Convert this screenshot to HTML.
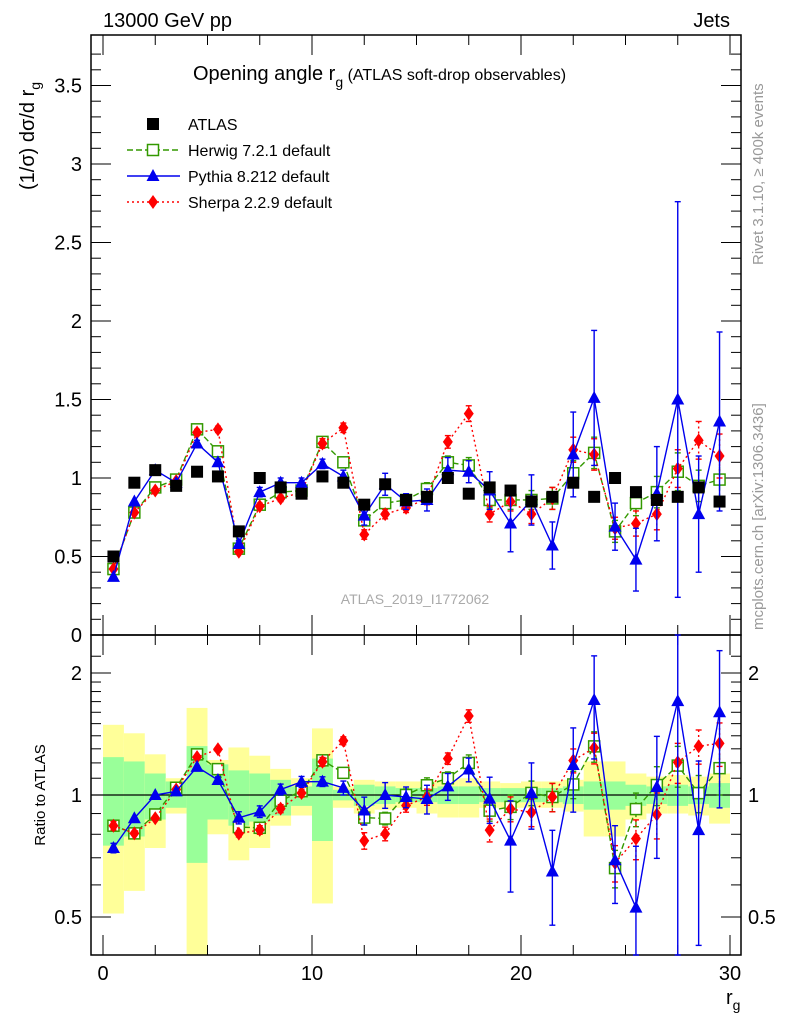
<!DOCTYPE html>
<html><head><meta charset="utf-8"><style>
body{margin:0;background:#fff;font-family:"Liberation Sans",sans-serif}
svg text{font-family:"Liberation Sans","DejaVu Sans",sans-serif}
</style></head><body>
<svg id="c" width="786" height="1024" xmlns="http://www.w3.org/2000/svg">
<g id="bands"></g>
<g id="axes"></g>
<g id="series"></g>
<text x="103" y="27" font-size="20">13000 GeV pp</text>
<text x="730" y="27" font-size="20" text-anchor="end">Jets</text>
<text transform="translate(34,190) rotate(-90)" font-size="20">(1/σ) dσ/d r<tspan font-size="14" dy="6">g</tspan></text>
<text x="193" y="80" font-size="20">Opening angle r<tspan font-size="14" dy="7">g</tspan><tspan font-size="16" dy="-7"> (ATLAS soft-drop observables)</tspan></text>
<text transform="translate(763,265) rotate(-90)" font-size="15" fill="#999">Rivet 3.1.10, ≥ 400k events</text>
<text transform="translate(763,630) rotate(-90)" font-size="15" fill="#999">mcplots.cern.ch [arXiv:1306.3436]</text>
<text x="415" y="604" font-size="14" fill="#aaa" text-anchor="middle">ATLAS_2019_I1772062</text>
<text transform="translate(45,795) rotate(-90)" font-size="15" text-anchor="middle">Ratio to ATLAS</text>
<text x="726" y="1004" font-size="20">r<tspan font-size="14" dy="6">g</tspan></text>
<g id="legend"></g>
</svg>
<script>
const centers=[0.5,1.5,2.5,3.5,4.5,5.5,6.5,7.5,8.5,9.5,10.5,11.5,12.5,13.5,14.5,15.5,16.5,17.5,18.5,19.5,20.5,21.5,22.5,23.5,24.5,25.5,26.5,27.5,28.5,29.5];
const atlas=[0.50,0.97,1.05,0.95,1.04,1.01,0.66,1.00,0.94,0.90,1.01,0.97,0.83,0.96,0.86,0.88,1.00,0.90,0.94,0.92,0.85,0.88,0.97,0.88,1.00,0.91,0.86,0.88,0.94,0.85];
const herwig=[0.42,0.78,0.94,0.99,1.31,1.17,0.55,0.83,0.91,0.92,1.23,1.10,0.73,0.84,0.86,0.93,1.10,1.08,0.86,0.86,0.86,0.87,1.03,1.16,0.66,0.84,0.91,1.04,0.95,0.99];
const herwigErr=[0.01,0.01,0.01,0.01,0.02,0.02,0.01,0.02,0.02,0.02,0.03,0.03,0.03,0.03,0.03,0.04,0.04,0.05,0.05,0.06,0.06,0.07,0.08,0.1,0.07,0.08,0.1,0.12,0.1,0.14];
const pythia=[0.37,0.85,1.05,0.97,1.22,1.10,0.58,0.91,0.97,0.97,1.09,1.01,0.76,0.96,0.85,0.86,1.05,1.04,0.92,0.71,0.86,0.57,1.15,1.51,0.69,0.48,0.90,1.50,0.77,1.36];
const pythiaErr=[0.01,0.01,0.01,0.01,0.02,0.02,0.02,0.03,0.03,0.03,0.03,0.04,0.06,0.07,0.05,0.07,0.08,0.07,0.12,0.18,0.16,0.15,0.27,0.43,0.15,0.2,0.3,1.26,0.37,0.57];
const sherpa=[0.42,0.78,0.92,0.98,1.29,1.31,0.53,0.82,0.87,0.91,1.22,1.32,0.64,0.77,0.81,0.87,1.23,1.41,0.77,0.85,0.77,0.87,1.18,1.15,0.68,0.71,0.77,1.06,1.24,1.14];
const sherpaErr=[0.01,0.01,0.01,0.01,0.02,0.02,0.01,0.02,0.02,0.02,0.03,0.03,0.03,0.03,0.03,0.04,0.04,0.05,0.05,0.06,0.06,0.07,0.08,0.1,0.07,0.08,0.1,0.12,0.12,0.14];
const yelHi=[1.49,1.42,1.26,1.10,1.64,1.22,1.31,1.25,1.16,1.10,1.46,1.05,1.09,1.08,1.08,1.08,1.09,1.10,1.08,1.07,1.08,1.08,1.09,1.21,1.21,1.13,1.11,1.12,1.11,1.13];
const yelLo=[0.51,0.58,0.74,0.90,0.30,0.80,0.69,0.74,0.84,0.89,0.54,0.93,0.90,0.92,0.93,0.90,0.88,0.88,0.93,0.93,0.93,0.93,0.91,0.79,0.79,0.87,0.90,0.90,0.89,0.85];
const grnHi=[1.24,1.21,1.13,1.08,1.32,1.19,1.15,1.13,1.09,1.05,1.23,1.03,1.06,1.05,1.04,1.04,1.05,1.05,1.04,1.04,1.04,1.04,1.05,1.08,1.08,1.06,1.05,1.06,1.05,1.07];
const grnLo=[0.75,0.79,0.87,0.93,0.68,0.87,0.84,0.86,0.89,0.94,0.77,0.97,0.94,0.95,0.96,0.96,0.95,0.95,0.96,0.96,0.96,0.96,0.95,0.92,0.92,0.94,0.95,0.94,0.95,0.93];
const mainTicks=[0,0.5,1,1.5,2,2.5,3,3.5];
const mainTickLabels=["0","0.5","1","1.5","2","2.5","3","3.5"];
const ratioTicks=[0.5,1,2];
const ratioTickLabels=["0.5","1","2"];
const xTicks=[0,10,20,30];
const xTickLabels=["0","10","20","30"];

const NS="http://www.w3.org/2000/svg";
const L=91,R=741,T=35,MB=635,RB=955;
const X=v=>103+20.9*v;
const Y=v=>635-157*v;
const YR=v=>795-122*Math.log2(v);
function mk(parent,tag,attrs){const e=document.createElementNS(NS,tag);for(const k in attrs)e.setAttribute(k,attrs[k]);parent.appendChild(e);return e;}
const ax=document.getElementById('axes'),bd=document.getElementById('bands'),sr=document.getElementById('series');
// bands
for(let i=0;i<centers.length;i++){
 const x0=X(centers[i]-0.5),w=20.9;
 const clip=v=>Math.min(RB,Math.max(MB,v));
 const y1=mk(bd,'rect',{x:x0,y:clip(YR(yelHi[i])),width:w,height:clip(YR(yelLo[i]))-clip(YR(yelHi[i])),fill:'#ffff99'});
 
 
 const g1=mk(bd,'rect',{x:x0,y:clip(YR(grnHi[i])),width:w,height:clip(YR(grnLo[i]))-clip(YR(grnHi[i])),fill:'#99ff99'});
 
 
}
// frames
for(const [t,b] of [[T,MB],[MB,RB]]){const f=mk(ax,'rect',{x:L,y:t,width:R-L,height:b-t,fill:'none',stroke:'#000','stroke-width':1.5});
 
 }
mk(ax,'line',{x1:L,x2:R,y1:YR(1),y2:YR(1),stroke:'#000','stroke-width':1.2});
// main y ticks
for(let v=0;v<=3.8;v+=0.1){const y=Y(v);if(y<T)break;const major=Math.abs(v*2-Math.round(v*2))<1e-6;const l=major?20:10;
 mk(ax,'line',{x1:L,x2:L+l,y1:y,y2:y,stroke:'#000'});mk(ax,'line',{x1:R-l,x2:R,y1:y,y2:y,stroke:'#000'});}
mainTicks.forEach((v,i)=>{const t=mk(ax,'text',{x:82,y:Y(v)+7,'font-size':20,'text-anchor':'end'});t.textContent=mainTickLabels[i];
 
 });
// ratio ticks
[0.4,0.5,0.6,0.7,0.8,0.9,1,1.1,1.2,1.3,1.4,1.5,1.6,1.7,1.8,1.9,2,2.2].forEach(v=>{const y=YR(v);if(y<MB||y>RB)return;const major=(v===0.5||v===1||v===2);const l=major?20:10;
 mk(ax,'line',{x1:L,x2:L+l,y1:y,y2:y,stroke:'#000'});mk(ax,'line',{x1:R-l,x2:R,y1:y,y2:y,stroke:'#000'});});
ratioTicks.forEach((v,i)=>{for(const [x,a] of [[82,'end'],[748,'start']]){const t=mk(ax,'text',{x:x,y:YR(v)+7,'font-size':20,'text-anchor':a});t.textContent=ratioTickLabels[i];
 
 }});
// x ticks
for(let v=0;v<=30.5;v+=2.5){const major=v%10===0;const l=major?20:10;
 for(const [t,b] of [[T,MB],[MB,RB]]){mk(ax,'line',{x1:X(v),x2:X(v),y1:b,y2:b-l,stroke:'#000'});mk(ax,'line',{x1:X(v),x2:X(v),y1:t,y2:t+l,stroke:'#000'});}}
xTicks.forEach((v,i)=>{const t=mk(ax,'text',{x:X(v),y:980,'font-size':20,'text-anchor':'middle'});t.textContent=xTickLabels[i];
 
 });
// markers
function marker(g,type,x,y,col){
 if(type==='sq')return mk(g,'rect',{x:x-6,y:y-6,width:12,height:12,fill:'#000'});
 if(type==='osq')return mk(g,'rect',{x:x-5.5,y:y-5.5,width:11,height:11,fill:'#fff',stroke:col,'stroke-width':1.5});
 if(type==='tri')return mk(g,'polygon',{points:`${x},${y-7} ${x-6.5},${y+5} ${x+6.5},${y+5}`,fill:col});
 if(type==='dia')return mk(g,'polygon',{points:`${x},${y-7} ${x+5},${y} ${x},${y+7} ${x-5},${y}`,fill:col});
}
const clipMain=y=>Math.max(T,Math.min(MB,y)),clipR=y=>Math.max(MB,Math.min(RB,y));
function series(name,vals,errs,col,dash,type){
 const g=mk(sr,'g',{});
 
 
 for(const panel of ['main','ratio']){
  const pts=centers.map((c,i)=>{const v=panel==='main'?vals[i]:vals[i]/atlas[i];return [X(c),panel==='main'?Y(v):YR(v)];});
  if(vals!==atlas){
   mk(g,'polyline',{points:pts.map(p=>p.join(',')).join(' '),fill:'none',stroke:col,'stroke-width':1.4,'stroke-dasharray':dash});
   centers.forEach((c,i)=>{const x=X(c);let y1,y2;
    if(panel==='main'){y1=clipMain(Y(vals[i]+errs[i]));y2=clipMain(Y(vals[i]-errs[i]));}
    else{const r=vals[i]/atlas[i],e=errs[i]/atlas[i];y1=clipR(YR(r+e));y2=clipR(YR(Math.max(0.05,r-e)));}
    if(y2-y1>6){mk(g,'line',{x1:x,x2:x,y1:y1,y2:y2,stroke:col,'stroke-width':1.4,'stroke-dasharray':dash});
     mk(g,'line',{x1:x-3,x2:x+3,y1:y1,y2:y1,stroke:col,'stroke-width':1.4});mk(g,'line',{x1:x-3,x2:x+3,y1:y2,y2:y2,stroke:col,'stroke-width':1.4});}
   });
  }
  if(panel==='main'||vals!==atlas){pts.forEach(p=>{const m=marker(g,type,p[0],p[1],col);
   
   });}
 }
}
series('herwig',herwig,herwigErr,'#339900','6,3','osq');
series('sherpa',sherpa,sherpaErr,'#ff0000','2,3','dia');
series('pythia',pythia,pythiaErr,'#0000ee','','tri');
series('atlas',atlas,atlas.map(()=>0),'#000','','sq');
// legend
const lg=document.getElementById('legend');
const items=[['ATLAS','#000','','sq'],['Herwig 7.2.1 default','#339900','6,3','osq'],['Pythia 8.212 default','#0000ee','','tri'],['Sherpa 2.2.9 default','#ff0000','2,3','dia']];
items.forEach((it,i)=>{const y=124+26*i;const g=mk(lg,'g',{});
 
 
 if(i>0)mk(g,'line',{x1:127,x2:180,y1:y,y2:y,stroke:it[1],'stroke-width':1.4,'stroke-dasharray':it[2]});
 marker(g,it[3],153,y,it[1]);
 const t=mk(g,'text',{x:188,y:y+6,'font-size':16});t.textContent=it[0];});
</script>
</body></html>
